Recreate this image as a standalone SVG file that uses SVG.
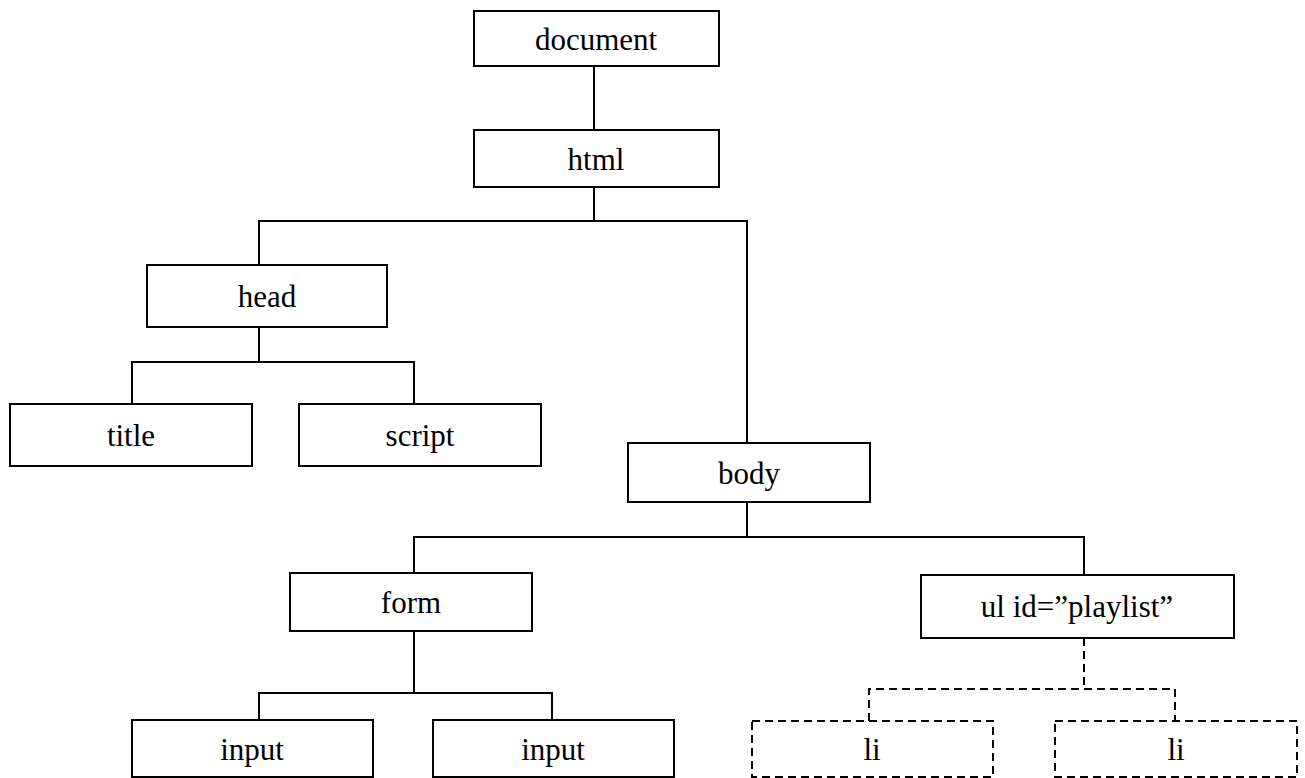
<svg xmlns="http://www.w3.org/2000/svg" width="1305" height="778" viewBox="0 0 1305 778">
<style>
.box{fill:#fff;stroke:#000;stroke-width:2}
.dbox{fill:#fff;stroke:#000;stroke-width:2;stroke-dasharray:8 5}
.c{fill:none;stroke:#000;stroke-width:2}
.cd{fill:none;stroke:#000;stroke-width:2;stroke-dasharray:8 5}
</style>
<rect width="1305" height="778" fill="#fff"/>
<g id="connectors">
<path class="c" d="M594 66V130"/>
<path class="c" d="M594 187V221M259 265V221H747V443"/>
<path class="c" d="M259 327V362M132 404V362H414V404"/>
<path class="c" d="M747 502V537M414 573V537H1084V575"/>
<path class="c" d="M414 631V693M259 720V693H552V720"/>
<path class="cd" d="M1084 638V689M869 721V689H1175V721"/>
</g>
<g font-family="'Liberation Serif', 'Times New Roman', 'DejaVu Serif', serif" font-size="31" text-anchor="middle" fill="#000">
<g id="document"><rect class="box" x="474" y="11" width="245" height="55"/><text x="596" y="50">document</text></g>
<g id="html"><rect class="box" x="474" y="130" width="245" height="57"/><text x="596" y="170">html</text></g>
<g id="head"><rect class="box" x="147" y="265" width="240" height="62"/><text x="267" y="307">head</text></g>
<g id="title"><rect class="box" x="10" y="404" width="242" height="62"/><text x="131" y="446">title</text></g>
<g id="script"><rect class="box" x="299" y="404" width="242" height="62"/><text x="420" y="446">script</text></g>
<g id="body"><rect class="box" x="628" y="443" width="242" height="59"/><text x="749" y="484">body</text></g>
<g id="form"><rect class="box" x="290" y="573" width="242" height="58"/><text x="411" y="613">form</text></g>
<g id="ul"><rect class="box" x="921" y="575" width="313" height="63"/><text x="1077" y="617">ul id=”playlist”</text></g>
<g id="input1"><rect class="box" x="132" y="720" width="241" height="57"/><text x="252" y="760">input</text></g>
<g id="input2"><rect class="box" x="433" y="720" width="241" height="57"/><text x="553" y="760">input</text></g>
<g id="li1"><rect class="dbox" x="752" y="721" width="241" height="56"/><text x="872" y="760">li</text></g>
<g id="li2"><rect class="dbox" x="1055" y="721" width="242" height="56"/><text x="1176" y="760">li</text></g>
</g>
</svg>
